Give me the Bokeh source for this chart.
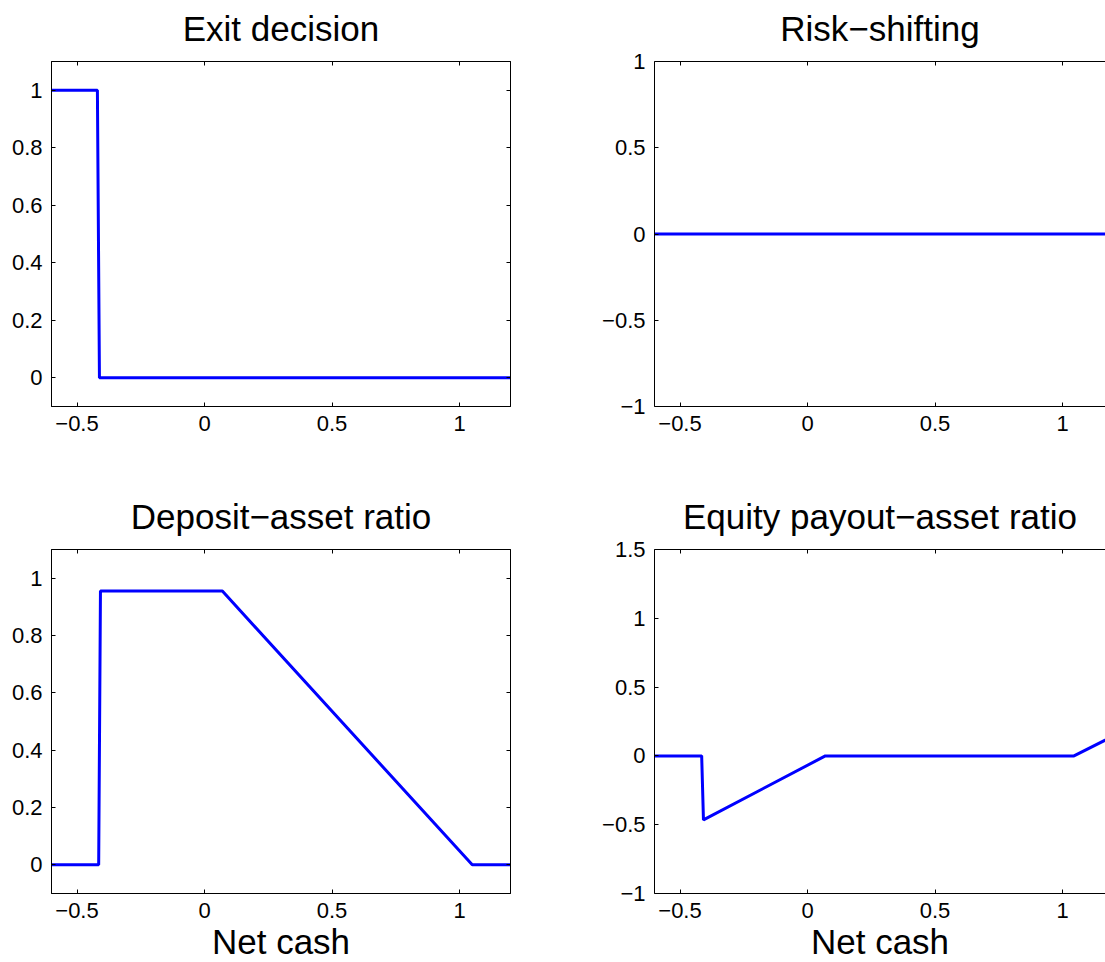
from bokeh.plotting import figure
from bokeh.layouts import column, row
from bokeh.models import LinearAxis, FixedTicker, Range1d, CustomJSTickFormatter
from bokeh.embed import file_html
from bokeh.resources import INLINE

FONT = "Liberation Sans"
LINE_COLOR = "#0000ff"

# --- policy functions over net cash ---------------------------------------
net_cash_exit = [-0.6, -0.42, -0.412, 1.2]
exit_decision = [1, 1, 0, 0]

net_cash_risk = [-0.6, 1.2]
risk_shifting = [0, 0]

net_cash_deposit = [-0.6, -0.415, -0.408, 0.07, 1.05, 1.2]
deposit_ratio = [0, 0, 0.955, 0.955, 0, 0]

net_cash_payout = [-0.6, -0.415, -0.408, 0.07, 1.045, 1.2]
payout_ratio = [0, 0, -0.465, 0, 0, 0.145]

# --- axis ticks --------------------------------------------------------------
x_ticks = [-0.5, 0, 0.5, 1]
y_ticks_unit = [0, 0.2, 0.4, 0.6, 0.8, 1]
y_ticks_risk = [-1, -0.5, 0, 0.5, 1]
y_ticks_payout = [-1, -0.5, 0, 0.5, 1, 1.5]

X_START, X_END = -0.6, 1.2
FRAME_W = 459        # full panel width
FRAME_W_CUT = 451    # right-hand panels run off the page edge

minus_fmt = CustomJSTickFormatter(code="return tick.toString().replace('-', '\u2212');")


def big_label(ax, text, standoff):
    ax.axis_label = text
    ax.axis_label_text_font = FONT
    ax.axis_label_text_font_size = "35px"
    ax.axis_label_text_font_style = "normal"
    ax.axis_label_text_color = "black"
    ax.axis_label_standoff = standoff


def make_axis(ticks, labels):
    ax = LinearAxis(ticker=FixedTicker(ticks=ticks))
    ax.major_tick_in = 4
    ax.major_tick_out = 0
    ax.minor_tick_line_color = None
    ax.axis_line_color = "black"
    ax.major_tick_line_color = "black"
    if labels:
        ax.formatter = minus_fmt
        ax.major_label_text_font = FONT
        ax.major_label_text_font_size = "22px"
        ax.major_label_text_color = "black"
        ax.major_label_standoff = 9
    else:
        ax.major_label_text_font_size = "0px"
        ax.major_label_standoff = 0
        ax.major_label_text_color = None
    return ax


def panel(title, xs, ys, y_ticks, y_lim, frame_h, borders, cut=False, xlabel=None):
    left, right, top, bottom = borders
    fw = FRAME_W_CUT if cut else FRAME_W
    x_end = X_START + fw * (X_END - X_START) / FRAME_W
    p = figure(frame_width=fw, frame_height=frame_h,
               x_range=Range1d(X_START, x_end), y_range=Range1d(*y_lim),
               x_axis_type=None, y_axis_type=None,
               output_backend="svg", toolbar_location=None,
               min_border_left=left, min_border_right=right,
               min_border_top=top, min_border_bottom=bottom,
               background_fill_color="white", border_fill_color="white")
    p.grid.visible = False
    p.outline_line_color = None if cut else "black"

    bottom_ax = make_axis(x_ticks, True)
    if xlabel:
        big_label(bottom_ax, xlabel, 1)
    p.add_layout(bottom_ax, "below")
    p.add_layout(make_axis(y_ticks, True), "left")
    top_ax = make_axis(x_ticks, False)
    big_label(top_ax, title, 14)
    p.add_layout(top_ax, "above")
    if not cut:
        p.add_layout(make_axis(y_ticks, False), "right")

    p.line(xs, ys, line_width=3, line_color=LINE_COLOR)
    return p


p1 = panel("Exit decision", net_cash_exit, exit_decision,
           y_ticks_unit, (-0.1, 1.1), 345, (51, 20, 61, 40))
p2 = panel("Risk\u2212shifting", net_cash_risk, risk_shifting,
           y_ticks_risk, (-1, 1), 345, (124, 0, 61, 40), cut=True)
p3 = panel("Deposit\u2212asset ratio", net_cash_deposit, deposit_ratio,
           y_ticks_unit, (-0.1, 1.1), 344, (51, 20, 103, 69), xlabel="Net cash")
p4 = panel("Equity payout\u2212asset ratio", net_cash_payout, payout_ratio,
           y_ticks_payout, (-1, 1.5), 344, (124, 0, 103, 69), cut=True, xlabel="Net cash")

layout = column(row(p1, p2), row(p3, p4))

open("out.html", "w").write(file_html(layout, INLINE))
